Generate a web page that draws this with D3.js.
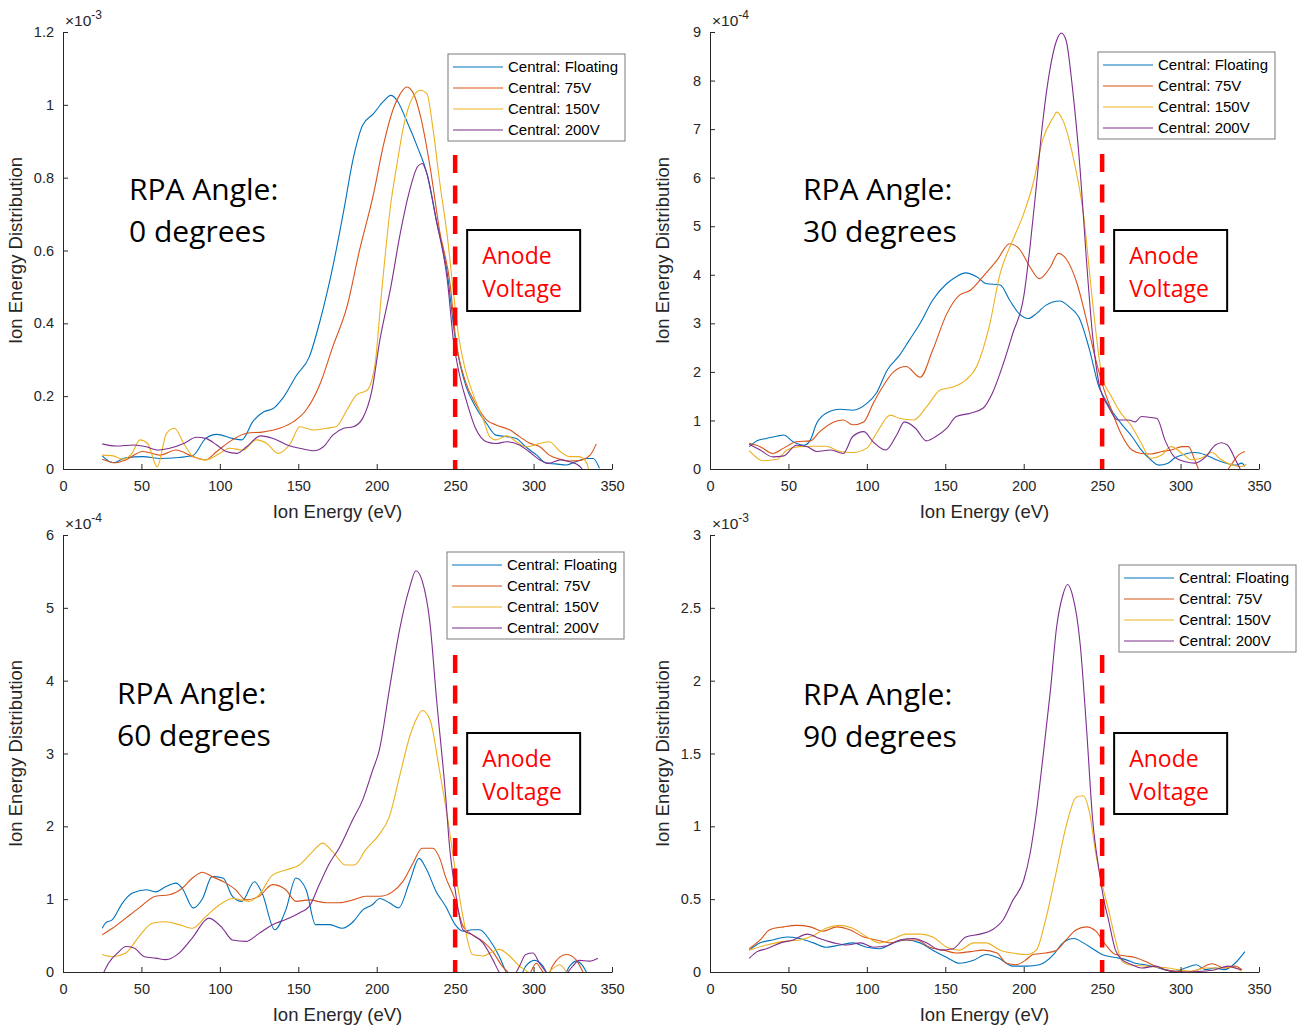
<!DOCTYPE html>
<html>
<head>
<meta charset="utf-8">
<script src="https://cdn.jsdelivr.net/npm/d3@7"></script>
<style>
  body { margin: 0; background: #fff; }
  svg { display: block; }
</style>
</head>
<body>
<svg id="chart" width="1297" height="1028"></svg>
<script>
// series names and colours (MATLAB default order)
const seriesNames = ["Central: Floating", "Central: 75V", "Central: 150V", "Central: 200V"];
const seriesColors = ["#0072BD", "#D95319", "#EDB120", "#7E2F8E"];

const xTicks = [0, 50, 100, 150, 200, 250, 300, 350];
const anodeVoltage = 250;

// ---- RPA angle 0 deg, values x1e-3 ----
const a0Floating = [[25,.036],[32,.017],[40,.031],[51,.034],[62,.029],[72,.031],[83,.038],[91,.084],[98,.095],[108,.084],[114,.08],[121,.13],[128,.157],[134,.166],[140,.194],[149,.258],[157,.308],[164,.409],[172,.555],[179,.71],[185,.852],[191,.944],[198,.976],[204,1.008],[209,1.026],[213,1.012],[219,.957],[226,.884],[232,.811],[238,.683],[245,.537],[250,.36],[253,.29],[257,.226],[263,.171],[270,.125],[276,.093],[283,.089],[289,.084],[295,.061],[302,.038],[308,.016],[314,.014],[321,.011],[327,.02],[334,.029],[338,.029],[342,.002]];
const a0V75 = [[25,.027],[34,.017],[40,.025],[51,.048],[62,.038],[72,.052],[83,.034],[91,.025],[98,.048],[108,.08],[117,.098],[128,.102],[138,.112],[147,.13],[155,.162],[164,.235],[172,.336],[181,.445],[189,.6],[198,.756],[204,.884],[211,.994],[215,1.03],[219,1.049],[223,1.035],[228,.967],[234,.83],[240,.656],[247,.5],[250,.37],[257,.235],[263,.18],[270,.135],[276,.121],[285,.107],[291,.089],[297,.072],[304,.061],[310,.038],[317,.027],[323,.022],[329,.023],[336,.038],[340,.069]];
const a0V150 = [[25,.038],[32,.036],[38,.027],[44,.043],[49,.08],[54,.07],[60,.006],[66,.098],[71,.112],[77,.07],[83,.034],[91,.025],[100,.043],[106,.057],[115,.052],[123,.08],[130,.07],[137,.043],[145,.07],[151,.116],[160,.107],[168,.112],[174,.116],[181,.162],[187,.203],[194,.217],[199,.29],[203,.48],[209,.729],[213,.839],[217,.939],[223,1.021],[228,1.04],[232,1.03],[236,.93],[240,.793],[245,.639],[249,.482],[252,.372],[256,.281],[262,.199],[268,.135],[272,.089],[276,.08],[283,.091],[289,.075],[295,.061],[304,.07],[310,.075],[317,.048],[323,.034],[329,.034],[334,.016],[335,0]];
const a0V200 = [[25,.069],[34,.063],[45,.066],[53,.061],[60,.052],[68,.057],[77,.07],[85,.087],[91,.084],[98,.066],[104,.048],[111,.043],[117,.061],[126,.091],[134,.084],[143,.066],[151,.057],[160,.05],[166,.061],[172,.093],[179,.112],[185,.116],[191,.139],[197,.217],[202,.354],[209,.5],[215,.647],[221,.765],[226,.83],[229,.839],[232,.811],[238,.683],[245,.519],[249,.35],[253,.254],[257,.19],[263,.112],[270,.075],[276,.07],[283,.075],[291,.066],[297,.048],[304,.025],[310,.016],[317,.025],[323,.02],[329,.009],[331,0]];

// ---- RPA angle 30 deg, values x1e-4 ----
const a30Floating = [[25,.46],[30,.58],[36,.63],[43,.68],[47,.7],[53,.56],[60,.49],[64,.6],[68,.94],[74,1.15],[83,1.23],[91,1.21],[100,1.35],[106,1.56],[113,2.04],[121,2.35],[127,2.65],[134,3.0],[142,3.48],[151,3.82],[157,3.96],[163,4.04],[170,3.96],[176,3.82],[185,3.79],[191,3.48],[197,3.2],[203,3.1],[208,3.2],[214,3.37],[223,3.46],[229,3.34],[236,3.07],[242,2.45],[248,1.69],[251,1.49],[256,1.21],[262,.94],[269,.67],[275,.39],[281,.19],[286,.08],[292,.12],[296,.22],[303,.31],[309,.34],[316,.29],[322,.2],[328,.13],[335,.08],[339,.12],[341,.05]];
const a30V75 = [[25,.53],[32,.46],[40,.32],[47,.43],[55,.56],[64,.58],[70,.77],[79,.97],[85,1.01],[91,.91],[98,.97],[104,1.35],[110,1.69],[117,2.0],[125,2.11],[134,1.89],[142,2.45],[151,3.2],[159,3.58],[166,3.68],[174,3.96],[183,4.3],[191,4.64],[197,4.54],[204,4.16],[210,3.92],[217,4.16],[222,4.44],[227,4.33],[234,3.82],[240,3.07],[246,2.24],[250,1.76],[256,1.21],[262,.73],[269,.39],[275,.32],[281,.31],[288,.36],[294,.39],[301,.46],[305,.46],[309,.19],[312,-.05],[318,-.35],[326,-.25],[330,-.02],[333,.12],[337,.29],[341,.36]];
const a30V150 = [[25,.38],[34,.17],[43,.2],[49,.39],[57,.46],[66,.47],[74,.47],[83,.36],[91,.34],[100,.43],[106,.73],[115,1.11],[121,1.04],[130,1.01],[138,1.28],[147,1.63],[155,1.69],[163,1.83],[170,2.11],[178,2.93],[185,4.03],[193,4.71],[200,5.26],[206,5.88],[212,6.77],[219,7.25],[221,7.35],[225,7.18],[231,6.5],[238,5.26],[244,3.41],[248,2.3],[250,1.9],[256,1.49],[262,1.15],[269,.87],[275,.53],[281,.22],[288,.29],[294,.46],[301,.32],[307,.19],[313,.22],[320,.34],[326,.19],[333,.08],[339,.05],[342,.1]];
const a30V200 = [[25,.51],[32,.39],[40,.25],[47,.27],[55,.49],[62,.46],[68,.36],[77,.39],[85,.32],[91,.67],[98,.77],[104,.56],[112,.39],[119,.7],[124,.97],[131,.84],[138,.58],[144,.67],[151,.84],[157,1.08],[166,1.15],[174,1.25],[180,1.56],[187,2.17],[193,2.79],[200,3.55],[204,4.57],[208,5.81],[212,7.11],[217,8.28],[221,8.83],[224,8.98],[227,8.83],[231,7.87],[236,6.15],[240,4.3],[244,2.72],[248,1.76],[254,1.28],[260,1.01],[267,1.01],[271,.97],[275,1.08],[281,1.06],[285,1.04],[290,.6],[296,.25],[303,.15],[309,.12],[316,.25],[322,.49],[326,.54],[330,.49],[335,.19],[338,0]];

// ---- RPA angle 60 deg, values x1e-4 ----
const a60Floating = [[25,.6],[27,.67],[31.5,.72],[38,.95],[44,1.08],[53,1.13],[59,1.1],[65.5,1.17],[72,1.22],[76,1.15],[83,.88],[89,1.01],[95,1.31],[102,1.29],[108,1.04],[114,.97],[122,1.24],[127,1.08],[135,.58],[142,.85],[148.5,1.29],[155,1.13],[161,.65],[170,.65],[178,.6],[185,.69],[191,.85],[197,.92],[202,1.01],[208,.95],[214,.88],[221,1.24],[227,1.56],[231.5,1.42],[238,1.1],[244,.9],[250,.65],[255,.56],[261,.58],[265.5,.58],[272,.44],[278,.22],[282.5,0],[287,-.15],[292,-.05],[295,.08],[300.6,.16],[306,.08],[308,0],[312,-.1],[318,-.1],[323,.08],[327,.15],[331.5,.08],[333.6,0],[336,-.1]];
const a60V75 = [[25,.51],[31.5,.6],[40,.74],[48.5,.88],[59,1.04],[67.7,1.06],[76,1.15],[82.5,1.29],[89,1.37],[95,1.31],[104,1.22],[110,1.13],[116.6,.99],[125,1.04],[133.6,1.2],[142,1.13],[148.5,.97],[157,.99],[167.7,.95],[176,.95],[185,.99],[193,1.04],[202,1.04],[210,1.1],[216.6,1.24],[223,1.49],[229,1.7],[235.7,1.7],[240,1.57],[244,1.3],[250,.99],[255,.63],[261,.51],[267.7,.42],[274,.28],[280,.08],[283.6,0],[290,-.15],[297,-.05],[301.7,.12],[306,0],[309,-.05],[312,.08],[320.9,.24],[327,.17],[331.5,0],[334,-.1]];
const a60V150 = [[25,.24],[31.5,.21],[40,.26],[48.5,.49],[57,.67],[65.5,.69],[74,.65],[82.5,.6],[91,.76],[99.6,.92],[108,1.01],[118.7,.97],[125,1.06],[133.6,1.33],[142,1.4],[150.6,1.47],[159,1.65],[165.5,1.77],[172,1.65],[180,1.47],[185.7,1.47],[193,1.68],[202,1.9],[208,2.13],[214.5,2.68],[221,3.23],[225,3.46],[229,3.59],[234,3.46],[240,2.77],[246,2.0],[250,1.4],[255,.76],[261,.24],[267.7,.22],[274,.28],[278,.31],[284.7,.22],[291,.08],[296.4,0],[303,-.2],[310,0],[316.6,.1],[320.9,0],[325,-.2]];
const a60V200 = [[25,-.05],[29,.12],[35.7,.28],[40,.35],[45.3,.33],[52,.21],[59,.19],[65.5,.17],[74,.26],[82.5,.47],[93,.74],[101.7,.6],[108,.44],[116.6,.42],[125,.53],[133.6,.65],[142,.72],[150.6,.81],[157,.9],[163.4,1.2],[169.8,1.49],[176,1.7],[184.7,2.09],[191,2.36],[197.4,2.77],[201.7,3.05],[208,3.87],[214.5,4.69],[221,5.28],[225,5.51],[229,5.37],[234,4.78],[238,3.78],[244,2.4],[246.4,1.73],[250,1.13],[255,.58],[261,.51],[267.7,.4],[274,.17],[278,0],[284,-.15],[291,.08],[295,.24],[299.6,.26],[303.8,.12],[308,0],[315,-.15],[325,.08],[329,.16],[335.7,.15],[341,.19]];

// ---- RPA angle 90 deg, values x1e-3 ----
const a90Floating = [[25,.15],[32,.2],[40,.22],[49,.24],[57,.23],[66,.2],[74,.17],[83,.185],[91,.2],[100,.17],[108,.16],[117,.2],[125,.22],[134,.2],[142,.15],[151,.1],[159,.06],[168,.08],[176,.12],[185,.09],[193,.04],[202,.04],[210,.05],[219,.12],[225,.2],[232,.23],[238,.2],[244,.16],[250,.12],[258.5,.1],[265,.085],[271,.06],[277.5,.05],[284,.034],[290,.016],[296.6,.005],[303,.027],[310,.05],[315.7,.016],[322,.027],[328,.016],[334.7,.06],[341,.14]];
const a90V75 = [[25,.16],[32,.22],[38,.29],[47,.31],[55,.32],[64,.31],[72,.28],[81,.31],[89,.29],[98,.24],[106,.22],[115,.2],[123,.22],[132,.22],[140,.17],[149,.15],[157,.13],[166,.14],[174,.15],[183,.13],[189,.06],[195,.05],[201,.08],[206,.12],[214,.13],[221,.15],[227,.22],[233.5,.29],[240,.31],[246,.28],[252,.19],[258.5,.12],[265,.11],[271,.1],[277.5,.073],[284,.04],[290,.016],[296.6,.005],[303,0],[311,.016],[320,.057],[328,.027],[334.7,.04],[339,.016]];
const a90V150 = [[25,.15],[36,.185],[47,.21],[57,.22],[66,.25],[74,.3],[83,.32],[91,.3],[100,.24],[108,.2],[117,.23],[125,.26],[134,.26],[142,.24],[151,.17],[159,.15],[168,.2],[176,.2],[185,.15],[193,.13],[202,.12],[208,.15],[214,.36],[221,.7],[227,1.0],[233.5,1.2],[238,1.21],[242,1.09],[246,.81],[250,.6],[254,.43],[258.5,.22],[262.7,.073],[267,.05],[275,.043],[284,.034],[292,.027],[298.7,.016],[307,.005],[315.7,.027],[324,.027],[332.6,.034],[339,.005]];
const a90V200 = [[25,.094],[30,.14],[36,.16],[45,.2],[53,.22],[62,.26],[70,.23],[79,.2],[87,.185],[96,.2],[104,.17],[113,.18],[121,.22],[130,.23],[138,.2],[147,.15],[155,.16],[163,.24],[172,.26],[180,.29],[187,.36],[193,.49],[200,.63],[204,.81],[208,1.09],[212,1.45],[217,1.93],[221,2.37],[225,2.59],[228,2.66],[231,2.59],[236,2.25],[240,1.68],[244,1.04],[248,.7],[251,.5],[254,.36],[258.5,.15],[262.7,.085],[269,.05],[275,.027],[284,.04],[290,.016],[296.6,0],[305,0],[313.5,.005],[322,.016],[330.5,.04],[334.7,.027],[339,.016]];

const angles = ["0", "30", "60", "90"];
const exponents = ["-3", "-4", "-4", "-3"];
const yTicks0 = [0, 0.2, 0.4, 0.6, 0.8, 1, 1.2];
const yTicks30 = [0, 1, 2, 3, 4, 5, 6, 7, 8, 9];
const yTicks60 = [0, 1, 2, 3, 4, 5, 6];
const yTicks90 = [0, 0.5, 1, 1.5, 2, 2.5, 3];

const panels = [
  {series: [a0Floating, a0V75, a0V150, a0V200], ticks: yTicks0, legend: [385, 22], dashTop: 123, title: [66, 168]},
  {series: [a30Floating, a30V75, a30V150, a30V200], ticks: yTicks30, legend: [388, 20], dashTop: 122, title: [93, 168]},
  {series: [a60Floating, a60V75, a60V150, a60V200], ticks: yTicks60, legend: [384, 17], dashTop: 120, title: [54, 169]},
  {series: [a90Floating, a90V75, a90V150, a90V200], ticks: yTicks90, legend: [409, 30], dashTop: 120, title: [93, 170]}
];

const pw = 549, ph = 437;
const axisFont = "'Liberation Sans', Arial, Helvetica, sans-serif";
const svg = d3.select("#chart");

panels.forEach(function (p, i) {
  const left = 63 + (i % 2) * 647;
  const top = 32 + Math.floor(i / 2) * 503;

  const x = d3.scaleLinear().domain([0, 350]).range([0, pw]);
  const y = d3.scaleLinear().domain([0, d3.max(p.ticks)]).range([ph, 0]);

  const g = svg.append("g").attr("transform", `translate(${left},${top})`);

  g.append("clipPath").attr("id", "clip" + i)
    .append("rect").attr("x", 0).attr("y", 0).attr("width", pw).attr("height", ph);

  // curves
  const line = d3.line().curve(d3.curveMonotoneX).x(d => x(d[0])).y(d => y(d[1]));
  p.series.forEach(function (s, k) {
    g.append("path")
      .datum(s)
      .attr("clip-path", `url(#clip${i})`)
      .attr("fill", "none")
      .attr("stroke", seriesColors[k])
      .attr("stroke-width", 1.1)
      .attr("stroke-linejoin", "round")
      .attr("d", line);
  });

  // axes (MATLAB style, ticks inside)
  const yAxis = d3.axisLeft(y).tickValues(p.ticks).tickSize(-5).tickSizeOuter(0).tickPadding(9)
    .tickFormat(d => String(d));
  const xAxis = d3.axisBottom(x).tickValues(xTicks).tickSize(-5).tickSizeOuter(0).tickPadding(12)
    .tickFormat(d => String(d));

  const gy = g.append("g").call(yAxis);
  const gx = g.append("g").attr("transform", `translate(0,${ph})`).call(xAxis);
  [gx, gy].forEach(a => {
    a.attr("font-family", axisFont).attr("font-size", 14.5);
    a.selectAll("path,line").attr("stroke", "#262626");
    a.selectAll("text").attr("fill", "#262626");
  });

  // exponent
  const ex = g.append("text").attr("x", 2).attr("y", -6)
    .attr("font-family", axisFont).attr("font-size", 15.5).attr("fill", "#262626");
  ex.append("tspan").text("\u00d710");
  ex.append("tspan").attr("dy", -7).attr("font-size", 12).text(exponents[i]);

  // axis labels
  g.append("text")
    .attr("x", pw / 2).attr("y", ph + 49)
    .attr("text-anchor", "middle")
    .attr("font-family", axisFont).attr("font-size", 18.5).attr("fill", "#262626")
    .text("Ion Energy (eV)");
  g.append("text")
    .attr("transform", `translate(-41,${ph / 2}) rotate(-90)`)
    .attr("text-anchor", "middle")
    .attr("font-family", axisFont).attr("font-size", 18.5).attr("fill", "#262626")
    .text("Ion Energy Distribution");

  // anode voltage marker
  g.append("line")
    .attr("x1", x(anodeVoltage)).attr("x2", x(anodeVoltage))
    .attr("y1", p.dashTop).attr("y2", ph)
    .attr("stroke", "#ff0000").attr("stroke-width", 4.5)
    .attr("stroke-dasharray", "18,12.5");

  const bx = x(anodeVoltage) + 12, by = 198;
  g.append("rect").attr("x", bx).attr("y", by).attr("width", 113).attr("height", 81)
    .attr("fill", "#fff").attr("stroke", "#000").attr("stroke-width", 2);
  ["Anode", "Voltage"].forEach((t, j) => {
    g.append("text").attr("x", bx + 15).attr("y", by + 34 + j * 33)
      .attr("font-family", "'Open Sans', 'Noto Sans', sans-serif").attr("font-size", 23)
      .attr("fill", "#ff0000").text(t);
  });

  // angle title
  ["RPA Angle:", angles[i] + " degrees"].forEach((t, j) => {
    g.append("text").attr("x", p.title[0]).attr("y", p.title[1] + j * 42)
      .attr("font-family", "'Open Sans', 'Noto Sans', sans-serif").attr("font-size", 30)
      .attr("fill", "#000").text(t);
  });

  // legend
  const lg = g.append("g").attr("transform", `translate(${p.legend[0]},${p.legend[1]})`);
  lg.append("rect").attr("width", 177).attr("height", 87)
    .attr("fill", "#fff").attr("stroke", "#7a7a7a").attr("stroke-width", 1);
  seriesNames.forEach((n, k) => {
    const ry = 13 + k * 21;
    lg.append("line").attr("x1", 5).attr("x2", 55).attr("y1", ry).attr("y2", ry)
      .attr("stroke", seriesColors[k]).attr("stroke-width", 1.1);
    lg.append("text").attr("x", 60).attr("y", ry).attr("dy", "0.35em")
      .attr("font-family", axisFont).attr("font-size", 15).attr("fill", "#000").text(n);
  });
});
</script>
</body>
</html>
